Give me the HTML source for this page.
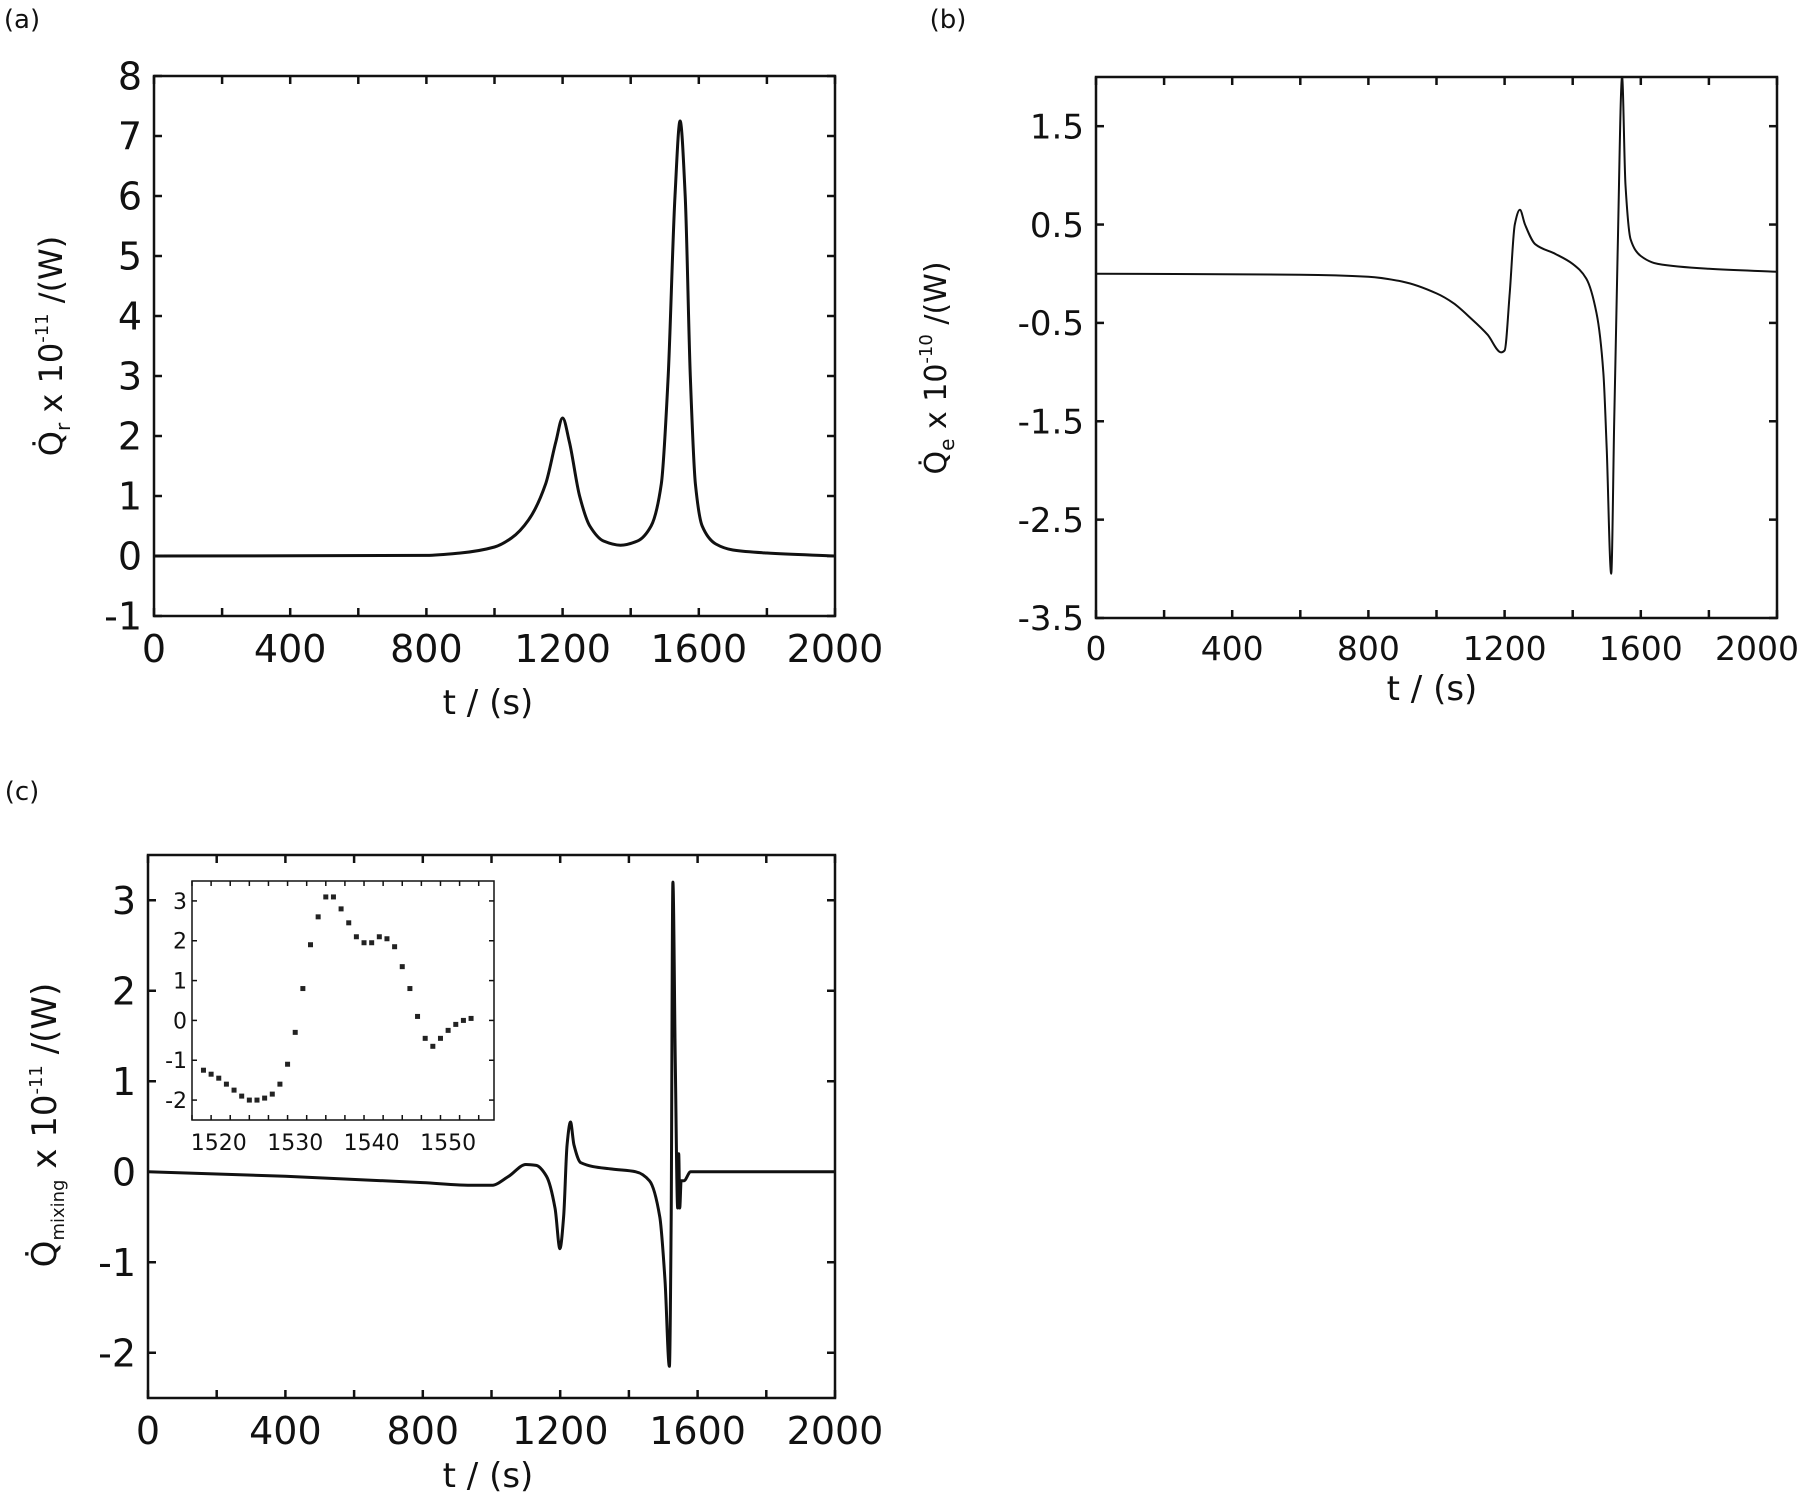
<!DOCTYPE html>
<html><head><meta charset="utf-8"><style>
html,body{margin:0;padding:0;background:#fff;}
svg{display:block;font-family:"DejaVu Sans","Liberation Sans",sans-serif;}
</style></head><body>
<svg id="fig" width="1800" height="1496" viewBox="0 0 1800 1496"></svg>
<script>
// ---- data ----
const tA = [0,800,900,1000,1050,1100,1150,1180,1200,1220,1250,1280,1320,1370,1420,1460,1490,1510,1530,1545,1560,1575,1590,1610,1650,1700,1800,2000];
const qA = [0,0.01,0.05,0.15,0.3,0.6,1.2,1.9,2.3,1.9,1.0,0.5,0.25,0.18,0.25,0.5,1.2,3.0,6.0,7.25,6.0,3.0,1.2,0.5,0.2,0.1,0.05,0];
const tB = [0,600,800,900,1000,1050,1100,1150,1190,1200,1215,1230,1245,1260,1290,1350,1400,1440,1470,1490,1500,1513,1522,1532,1545,1555,1570,1600,1650,1800,2000];
const qB = [0,-0.01,-0.03,-0.08,-0.2,-0.3,-0.45,-0.62,-0.8,-0.78,-0.2,0.5,0.65,0.5,0.3,0.2,0.1,-0.05,-0.4,-1.0,-1.8,-3.05,-1.5,0.2,2.0,0.9,0.35,0.18,0.1,0.05,0.02];
const tC = [0,400,800,950,1000,1050,1100,1130,1160,1185,1199,1210,1220,1230,1240,1260,1350,1420,1460,1490,1505,1518,1523,1528,1535,1542,1545,1548,1552,1560,1580,2000];
const qC = [0,-0.05,-0.12,-0.15,-0.15,-0.05,0.08,0.07,-0.05,-0.4,-0.85,-0.5,0.3,0.55,0.3,0.1,0.03,0,-0.1,-0.5,-1.2,-2.15,-0.5,3.2,1.2,-0.4,0.2,-0.4,-0.1,-0.1,0,0];
const tIn = [1518,1519,1520,1521,1522,1523,1524,1525,1526,1527,1528,1529,1530,1531,1532,1533,1534,1535,1536,1537,1538,1539,1540,1541,1542,1543,1544,1545,1546,1547,1548,1549,1550,1551,1552,1553];
const qIn = [-1.25,-1.35,-1.45,-1.6,-1.75,-1.9,-2.0,-2.0,-1.95,-1.85,-1.6,-1.1,-0.3,0.8,1.9,2.6,3.1,3.1,2.8,2.45,2.1,1.95,1.95,2.1,2.05,1.85,1.35,0.8,0.1,-0.45,-0.65,-0.45,-0.25,-0.1,0.0,0.05];
const xTicks = [0,400,800,1200,1600,2000];
const yTicksA = [-1,0,1,2,3,4,5,6,7,8];
const yTicksB = [-3.5,-2.5,-1.5,-0.5,0.5,1.5];
const yTicksC = [-2,-1,0,1,2,3];
const xTicksIn = [1520,1530,1540,1550];
const yTicksIn = [-2,-1,0,1,2,3];

const NS="http://www.w3.org/2000/svg";
const svg=document.getElementById('fig');
function mk(tag,attrs,parent){const e=document.createElementNS(NS,tag);for(const k in attrs)e.setAttribute(k,attrs[k]);(parent||svg).appendChild(e);return e;}

function panel(name,box,xd,yd,xt,yt,fmt,fs,opts){
  const g=mk('g',{});
  
  
  const sx=v=>box.x0+(v-xd[0])/(xd[1]-xd[0])*(box.x1-box.x0);
  const sy=v=>box.y1-(v-yd[0])/(yd[1]-yd[0])*(box.y1-box.y0);
  const fr=mk('rect',{x:box.x0,y:box.y0,width:box.x1-box.x0,height:box.y1-box.y0,fill:'#fff',stroke:'#111','stroke-width':opts.sw},g);
  
  
  const tl=opts.tl;
  const minor=opts.minorX;
  for(let v=xd[0];v<=xd[1]+1e-9;v+=minor){
    const X=sx(v);
    mk('line',{x1:X,y1:box.y1,x2:X,y2:box.y1-tl,stroke:'#111','stroke-width':opts.sw},g);
    mk('line',{x1:X,y1:box.y0,x2:X,y2:box.y0+tl,stroke:'#111','stroke-width':opts.sw},g);
  }
  xt.forEach((v,i)=>{
    let X=sx(v),anchor='middle';
    if(opts.lastEnd&&i===xt.length-1){X=opts.lastEnd;anchor='end';}
    const t=mk('text',{x:X,y:box.y1+opts.xoff,'font-size':opts.xfs||fs,'text-anchor':anchor,fill:'#111'},g);
    t.textContent=v;
    
    
  });
  yt.forEach(v=>{
    const Y=sy(v);
    mk('line',{x1:box.x0,y1:Y,x2:box.x0+tl,y2:Y,stroke:'#111','stroke-width':opts.sw},g);
    mk('line',{x1:box.x1,y1:Y,x2:box.x1-tl,y2:Y,stroke:'#111','stroke-width':opts.sw},g);
    const t=mk('text',{x:box.x0-opts.yoff,y:Y+fs*0.36,'font-size':fs,'text-anchor':'end',fill:'#111'},g);
    t.textContent=fmt(v);
    
    
  });
  return {g,sx,sy};
}
function monoPath(X,Y){
  const n=X.length,d=[],m=[];
  for(let i=0;i<n-1;i++)d.push((Y[i+1]-Y[i])/(X[i+1]-X[i]));
  m[0]=d[0];m[n-1]=d[n-2];
  for(let i=1;i<n-1;i++){m[i]=(d[i-1]*d[i]<=0)?0:3*(X[i+1]-X[i-1])/((2*X[i+1]-X[i]-X[i-1])/d[i-1]+(X[i+1]+X[i]-2*X[i-1])/d[i]);}
  let p='M'+X[0].toFixed(1)+','+Y[0].toFixed(1);
  for(let i=0;i<n-1;i++){const h=(X[i+1]-X[i])/3;
    p+='C'+(X[i]+h).toFixed(1)+','+(Y[i]+m[i]*h).toFixed(1)+' '+(X[i+1]-h).toFixed(1)+','+(Y[i+1]-m[i+1]*h).toFixed(1)+' '+X[i+1].toFixed(1)+','+Y[i+1].toFixed(1);}
  return p;
}
function curve(p,ts,qs,name,w){
  const d=monoPath(ts.map(p.sx),qs.map(p.sy));
  const path=mk('path',{d,fill:'none',stroke:'#111','stroke-width':w,'stroke-linejoin':'round'},p.g);
  
  
}
function label(txt,x,y,fs,name,rot){
  const t=mk('text',{x,y,'font-size':fs,'text-anchor':'middle',fill:'#111'});
  if(rot)t.setAttribute('transform','rotate(-90 '+x+' '+y+')');
  t.innerHTML=txt;
  
  
  return t;
}
const opt={sw:2.5,tl:8,minorX:200,xoff:46,yoff:12};
const pA=panel('panel-a',{x0:154,x1:835,y0:76,y1:616},[0,2000],[-1,8],xTicks,yTicksA,v=>String(v),38,opt);
curve(pA,tA,qA,'series-qr',3);
const pB=panel('panel-b',{x0:1096,x1:1777,y0:77,y1:618},[0,2000],[-3.5,2],xTicks,yTicksB,v=>v.toFixed(1),34,{sw:2.5,tl:8,minorX:200,xoff:42,yoff:12,xfs:33,lastEnd:1799});
curve(pB,tB,qB,'series-qe',2);
const pC=panel('panel-c',{x0:148,x1:835,y0:855,y1:1398},[0,2000],[-2.5,3.5],xTicks,yTicksC,v=>String(v),38,opt);
curve(pC,tC,qC,'series-qmixing',3);
const pI=panel('inset',{x0:192,x1:494,y0:881,y1:1120},[1516.5,1556],[-2.5,3.5],xTicksIn,yTicksIn,v=>String(v),22,{sw:1.5,tl:5,minorX:2.5,xoff:30,yoff:5});
tIn.forEach((t,i)=>{
  const c=mk('rect',{x:pI.sx(t)-2.5,y:pI.sy(qIn[i])-2.5,width:5,height:5,fill:'#222'},pI.g);
  
  
});
label('(a)',22,28,26,'panel-a-label');
label('(b)',948,28,26,'panel-b-label');
label('(c)',22,800,26,'panel-c-label');
label('t / (s)',488,714,34,'x-axis-title-a');
label('t / (s)',1432,700,34,'x-axis-title-b');
label('t / (s)',488,1487,34,'x-axis-title-c');
label('Q&#775;<tspan font-size="20" dy="8">r</tspan><tspan dy="-8"> x 10</tspan><tspan font-size="18" dy="-14">-11</tspan><tspan dy="14"> /(W)</tspan>',62,346,32,'y-axis-title-a',true);
label('Q&#775;<tspan font-size="20" dy="8">e</tspan><tspan dy="-8"> x 10</tspan><tspan font-size="18" dy="-14">-10</tspan><tspan dy="14"> /(W)</tspan>',946,368,30,'y-axis-title-b',true);
label('Q&#775;<tspan font-size="18" dy="8">mixing</tspan><tspan dy="-8"> x 10</tspan><tspan font-size="18" dy="-14">-11</tspan><tspan dy="14"> /(W)</tspan>',56,1125,34,'y-axis-title-c',true);
</script>
</body></html>
